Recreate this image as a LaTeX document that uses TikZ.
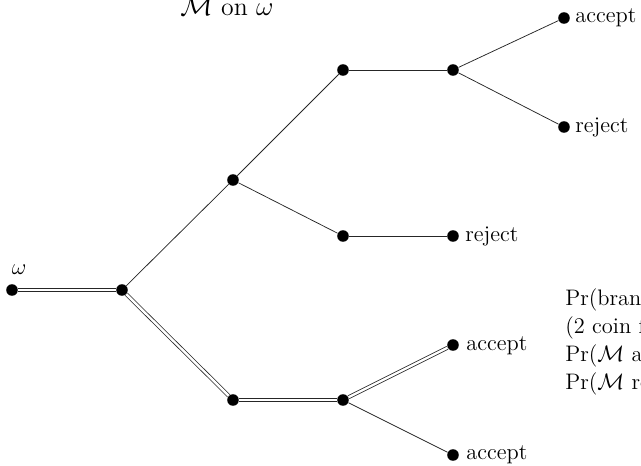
\documentclass[tikz,border=0pt]{standalone}
\begin{document}
\begin{tikzpicture}[x=0.535pt,y=-0.535pt,
  every node/.style={font=\fontsize{12}{14.5}\selectfont},
  dot/.style={circle,fill=black,inner sep=0pt,minimum size=6.2pt},
  edge/.style={line width=0.4pt,black!85},
  dbl/.style={line width=0.4pt,draw=black!85,double,double distance=1.3pt},
  lbl/.style={anchor=base west,inner sep=0pt}]
\clip (0,0) rectangle (641,466);
\node[anchor=base,inner sep=0pt,font=\fontsize{13.8}{17}\selectfont] (title) at (227,16) {$\mathcal{M}$ on $\omega$};
\node[dot] (w) at (12,290) {};
\node[anchor=base,inner sep=0pt] (wl) at (19,275) {$\omega$};
\node[dot] (a) at (122,290) {};
\node[dot] (b) at (233,180) {};
\node[dot] (c) at (343,70) {};
\node[dot] (d) at (453,70) {};
\node[dot] (e) at (564,18) {};
\node[dot] (f) at (564,127) {};
\node[dot] (g) at (343,236) {};
\node[dot] (h) at (453,236) {};
\node[dot] (i) at (233,400) {};
\node[dot] (j) at (343,400) {};
\node[dot] (k) at (453,345) {};
\node[dot] (l) at (453,455) {};
\node[lbl] (el) at (575,23) {accept};
\node[lbl] (fl) at (575,132) {reject};
\node[lbl] (hl) at (465,241) {reject};
\node[lbl] (kl) at (466,350) {accept};
\node[lbl] (ll) at (466,460) {accept};
\draw[dbl] (w) -- (a);
\draw[edge] (a) -- (b);
\draw[edge] (b) -- (c);
\draw[edge] (c) -- (d);
\draw[edge] (d) -- (e);
\draw[edge] (d) -- (f);
\draw[edge] (b) -- (g);
\draw[edge] (g) -- (h);
\draw[dbl] (a) -- (i);
\draw[dbl] (i) -- (j);
\draw[dbl] (j) -- (k);
\draw[edge] (j) -- (l);
\node[anchor=base west,inner sep=0pt] (p1) at (565,305) {Pr(branch) = 1/4};
\node[anchor=base west,inner sep=0pt] (p2) at (565,333) {(2 coin flips)};
\node[anchor=base west,inner sep=0pt] (p3) at (565,361) {Pr($\mathcal{M}$ accepts) = 3/4};
\node[anchor=base west,inner sep=0pt] (p4) at (565,389) {Pr($\mathcal{M}$ rejects) = 1/4};
\end{tikzpicture}
\end{document}
